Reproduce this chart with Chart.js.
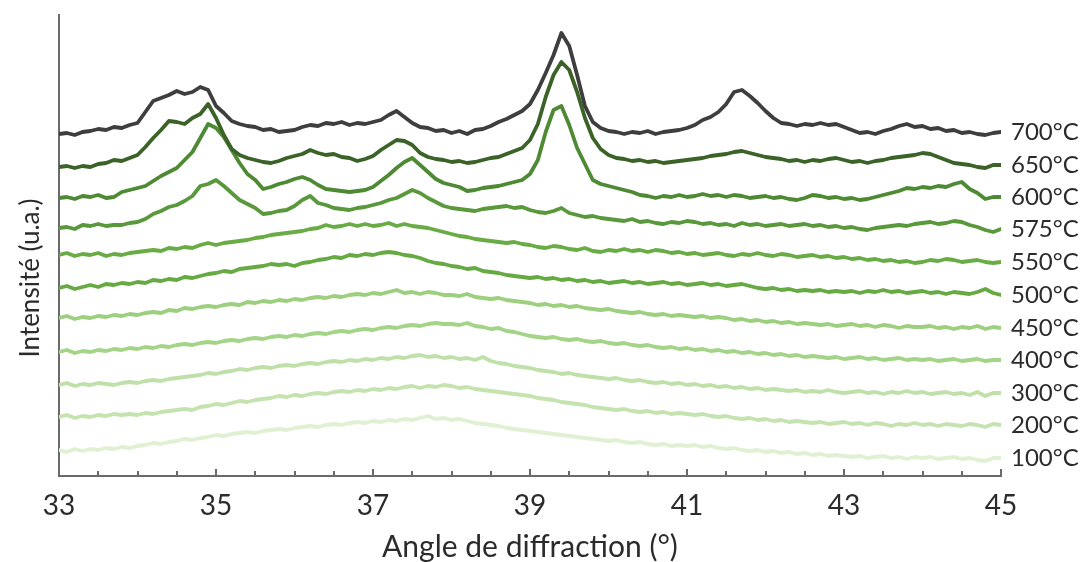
<!DOCTYPE html>
<html>
<head>
<meta charset="utf-8">
<script src="https://cdn.jsdelivr.net/npm/chart.js@4.4.1/dist/chart.umd.min.js"></script>
<style>
  html, body { margin: 0; padding: 0; background: #ffffff; }
  #wrap { width: 1083px; height: 562px; }
</style>
</head>
<body>
<div id="wrap"><canvas id="c" width="1083" height="562"></canvas></div>
<script>
// ---- data (intensity, arbitrary units, offset-stacked as in the figure) ----
const ANGLE_START = 33;
const ANGLE_STEP = 0.1;
const xTickValues = [33, 35, 37, 39, 41, 43, 45];
const seriesLabels = ['700°C', '650°C', '600°C', '575°C', '550°C', '500°C', '450°C', '400°C', '300°C', '200°C', '100°C'];
const seriesColors = ['#3e3e3e', '#3b6328', '#4d8a33', '#5a983c', '#69ac46', '#67aa44', '#9ccf7e', '#a3d487', '#c0e0aa', '#c4e3af', '#dff0d3'];

const s700 = [342,343,341,344,345,347,346,349,348,351,
  353,364,375,378,381,385,382,384,389,386,
  370,363,355,352,350,349,346,347,344,345,
  346,349,351,350,353,352,354,351,353,352,
  354,356,361,365,359,353,349,348,345,346,
  343,345,342,346,347,350,354,357,361,365,
  372,386,403,421,443,430,401,370,354,348,
  345,344,342,344,343,345,342,344,345,346,
  348,351,356,359,364,372,384,386,380,373,
  365,358,353,352,350,352,351,353,351,352,
  349,346,343,344,342,345,347,350,352,349,
  350,347,348,345,346,343,344,342,341,343,
  344];
const s650 = [309,310,308,310,309,312,313,316,315,318,
  321,329,338,346,355,354,352,358,362,372,
  358,341,327,321,318,316,314,313,315,318,
  320,322,326,323,321,322,319,318,315,317,
  320,326,331,336,335,331,323,319,317,316,
  314,315,313,314,316,318,319,322,325,328,
  336,352,379,401,414,406,384,358,338,327,
  321,318,317,315,316,314,315,313,314,315,
  316,317,318,320,321,322,324,325,323,321,
  319,318,317,315,316,314,316,315,317,318,
  316,314,315,313,315,316,318,319,320,321,
  323,322,319,316,313,312,311,309,308,311,
  311];
const s600 = [278,279,277,280,279,281,278,279,284,286,
  288,290,295,300,304,308,316,324,338,352,
  348,339,326,313,302,296,287,289,292,294,
  297,299,296,291,287,286,285,284,285,286,
  289,295,301,308,314,318,311,304,297,293,
  291,289,285,286,288,289,290,292,294,296,
  302,316,344,366,370,351,328,312,296,292,
  290,288,286,284,281,280,278,280,279,281,
  279,280,282,280,281,279,281,280,278,279,
  280,278,279,277,276,278,281,280,278,279,
  277,278,276,277,279,281,283,285,288,287,
  289,288,290,289,292,294,287,283,277,279,
  279];
const s575 = [248,249,247,251,250,252,250,251,251,253,
  254,257,262,265,269,271,275,280,290,292,
  296,290,283,276,272,268,262,263,265,266,
  270,276,280,273,271,268,267,266,268,269,
  271,273,276,278,282,286,283,278,274,270,
  268,267,266,265,267,268,269,270,268,269,
  266,264,263,265,268,263,261,259,260,258,
  257,256,255,257,254,255,253,252,254,253,
  255,254,252,253,251,252,250,253,251,252,
  250,251,252,250,251,252,250,251,249,250,
  248,249,247,246,248,249,250,251,250,252,
  253,254,252,253,255,254,251,249,246,244,
  247];
const s550 = [221,223,220,222,221,223,220,222,221,223,
  224,225,226,225,228,227,229,228,231,233,
  231,233,234,235,236,238,239,241,242,243,
  244,245,247,248,251,249,250,252,250,252,
  250,251,253,250,252,250,249,248,246,244,
  242,240,239,237,236,235,234,233,234,232,
  231,229,228,230,229,227,226,228,225,224,
  226,225,227,225,226,224,226,225,223,224,
  222,223,221,222,223,221,220,222,221,223,
  221,220,222,221,219,220,221,219,220,218,
  219,217,218,216,217,215,216,214,215,213,
  214,216,215,217,216,214,215,216,214,213,
  214];
const s500 = [188,190,187,189,191,189,192,191,193,192,
  194,193,196,195,197,196,199,198,200,202,
  203,205,204,207,208,209,210,212,211,212,
  210,213,214,216,217,219,218,221,220,222,
  221,223,224,223,221,220,218,215,213,212,
  210,209,207,208,205,204,203,201,200,199,
  198,199,197,198,196,197,195,196,194,195,
  193,194,195,193,194,192,193,194,192,193,
  191,192,193,191,192,190,191,192,190,188,
  187,188,186,187,185,186,185,186,184,185,
  184,185,183,185,184,186,184,185,183,184,
  185,183,184,182,184,183,182,184,187,183,
  181];
const s450 = [158,160,157,159,158,160,159,161,160,162,
  161,163,164,163,166,165,168,167,169,170,
  169,171,172,171,174,173,175,174,176,175,
  177,176,178,179,178,180,179,181,182,181,
  183,182,184,186,183,184,182,184,183,181,
  181,180,182,179,178,177,178,176,175,174,
  173,171,172,170,171,169,170,168,167,166,
  167,165,164,163,164,162,161,162,160,161,
  160,159,160,158,159,158,156,157,155,156,
  154,155,153,154,152,153,152,151,152,150,
  151,152,150,151,149,151,150,148,150,149,
  149,150,148,149,147,149,148,150,147,149,
  148];
const s400 = [124,126,123,125,124,126,125,127,126,128,
  127,129,128,130,129,131,132,131,133,134,
  133,135,136,135,137,138,137,139,140,139,
  141,140,142,143,142,144,145,144,146,147,
  146,148,149,148,150,151,150,152,153,152,
  152,151,153,150,149,147,148,145,144,142,
  140,139,138,139,137,136,137,135,134,135,
  133,132,133,131,130,131,129,128,129,127,
  128,126,127,125,126,124,125,123,124,122,
  123,121,122,120,121,119,120,119,118,119,
  117,118,119,117,118,116,117,118,116,117,
  116,117,115,116,117,115,116,117,115,116,
  116];
const s300 = [91,93,90,92,91,93,92,91,93,94,
  93,95,96,95,97,98,99,100,101,103,
  102,104,105,107,106,108,109,108,110,111,
  110,112,113,112,114,115,114,116,115,117,
  116,118,117,119,118,120,121,119,120,118,
  119,117,118,116,119,115,113,112,110,109,
  108,106,105,104,102,103,101,100,99,98,
  97,98,96,95,96,94,93,94,92,93,
  91,92,90,91,89,90,88,89,87,88,
  86,87,86,85,86,84,85,84,86,84,
  83,84,85,83,84,82,84,83,85,83,
  84,82,83,84,82,83,81,84,80,83,
  83];
const s200 = [59,61,58,60,59,61,60,62,61,62,
  61,63,62,64,65,66,67,66,69,70,
  72,71,73,75,74,76,77,78,80,79,
  81,80,82,83,82,84,85,84,86,85,
  87,86,88,87,89,90,88,90,89,91,
  90,88,89,87,86,85,84,83,82,81,
  80,78,77,76,74,73,72,71,69,68,
  67,66,67,65,64,65,63,64,62,63,
  62,61,62,60,59,60,58,57,58,56,
  57,55,56,54,55,54,53,54,52,53,
  54,52,53,51,53,52,50,52,51,53,
  51,52,50,52,51,50,52,51,49,52,
  51];
const s100 = [26,24,27,25,27,26,28,27,29,28,
  30,31,33,32,34,35,37,36,38,39,
  41,40,42,43,44,43,45,46,47,46,
  48,49,50,49,51,52,51,53,54,53,
  55,54,56,55,57,56,58,60,57,58,
  56,57,55,53,52,51,50,48,47,46,
  45,44,43,42,41,40,39,38,37,36,
  35,36,34,33,34,32,31,32,30,31,
  30,31,29,30,28,27,28,26,25,26,
  24,25,23,24,22,23,21,22,20,21,
  20,19,20,18,19,20,18,19,17,19,
  18,19,17,18,19,17,18,16,15,18,
  18];

const seriesValues = [s700, s650, s600, s575, s550, s500, s450, s400, s300, s200, s100];

// ---- build chart ----
const FONT = 'Lato, "Open Sans", "DejaVu Sans", sans-serif';
const TEXT = '#2b2b2b';
const AXIS = '#6a6a6a';

const datasets = seriesValues.map((vals, k) => ({
  label: seriesLabels[k],
  data: vals.map((v, i) => ({ x: +(ANGLE_START + i * ANGLE_STEP).toFixed(2), y: v })),
  borderColor: seriesColors[k],
  backgroundColor: seriesColors[k],
  borderWidth: 3.8,
  pointRadius: 0,
  tension: 0,
  borderJoinStyle: 'round',
  borderCapStyle: 'round',
  fill: false
}));

const extrasPlugin = {
  id: 'extras',
  afterDraw(chart) {
    const ctx = chart.ctx;
    const xs = chart.scales.x;
    const area = chart.chartArea;
    ctx.save();
    // inward tick marks every 0.5
    ctx.strokeStyle = AXIS;
    ctx.lineWidth = 2;
    for (let v = 33; v <= 45.0001; v += 0.5) {
      const px = Math.round(xs.getPixelForValue(v));
      const major = xTickValues.some(t => Math.abs(t - v) < 1e-6);
      const len = major ? 7 : 5;
      ctx.beginPath();
      ctx.moveTo(px, area.bottom);
      ctx.lineTo(px, area.bottom - len);
      ctx.stroke();
    }
    // series labels at the end of each curve
    ctx.fillStyle = TEXT;
    ctx.font = '24px ' + FONT;
    ctx.textAlign = 'left';
    ctx.textBaseline = 'middle';
    chart.data.datasets.forEach((ds, i) => {
      const meta = chart.getDatasetMeta(i);
      const last = meta.data[meta.data.length - 1];
      ctx.fillText(ds.label, last.x + 10, last.y);
    });
    // y-axis title
    ctx.translate(31, 278);
    ctx.rotate(-Math.PI / 2);
    ctx.textAlign = 'center';
    ctx.textBaseline = 'middle';
    ctx.font = '26px ' + FONT;
    ctx.fillText('Intensité (u.a.)', 0, 0);
    ctx.restore();
  }
};

new Chart(document.getElementById('c'), {
  type: 'line',
  data: { datasets },
  options: {
    responsive: false,
    animation: false,
    devicePixelRatio: 1,
    layout: { padding: { left: 0, right: 82, top: 15, bottom: 0 } },
    plugins: { legend: { display: false }, tooltip: { enabled: false } },
    scales: {
      x: {
        type: 'linear',
        min: 33,
        max: 45,
        grid: { display: false, drawTicks: false },
        border: { display: true, color: AXIS, width: 2 },
        ticks: {
          stepSize: 0.5,
          autoSkip: false,
          maxRotation: 0,
          padding: 13,
          color: TEXT,
          font: { family: FONT, size: 28 },
          callback: (v) => xTickValues.some(t => Math.abs(t - v) < 1e-6) ? String(v) : ''
        },
        title: {
          display: true,
          text: 'Angle de diffraction (°)',
          color: TEXT,
          font: { family: FONT, size: 30, lineHeight: 1 },
          padding: { top: 0, bottom: 0 }
        },
        afterFit: (axis) => { axis.height = 86; }
      },
      y: {
        type: 'linear',
        min: 0,
        max: 461,
        grid: { display: false, drawTicks: false },
        border: { display: true, color: AXIS, width: 2 },
        ticks: { display: false },
        title: { display: false },
        afterFit: (axis) => { axis.width = 59; }
      }
    }
  },
  plugins: [extrasPlugin]
});
</script>
</body>
</html>
